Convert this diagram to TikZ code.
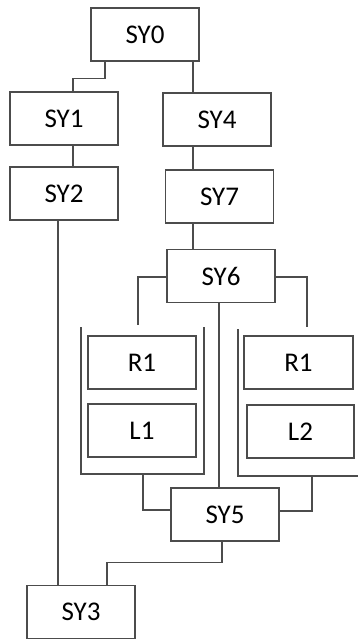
\documentclass[tikz,border=0pt]{standalone}
\usepackage{fontspec}
\setmainfont{Carlito}
\usepackage{tikz}
\usetikzlibrary{positioning,calc}

\begin{document}
\begin{tikzpicture}[
    x=1pt, y=-1pt,
    line width=1.2pt,
    box/.style={rectangle, draw=black!70, minimum width=108pt, minimum height=53pt, inner sep=0pt, font=\fontsize{27}{32}\selectfont},
    link/.style={draw=black!70, line width=1.1pt}
]
    \useasboundingbox (0,0) rectangle (358,639);

    \node[box] (SY0) at (145,34.5) {SY0};
    \node[box] (SY1) at (64,118.5) {SY1};
    \node[box] (SY4) at (217,119.5) {SY4};
    \node[box] (SY2) at (64,193.5) {SY2};
    \node[box] (SY7) at (219.5,196.5) {SY7};
    \node[box] (SY6) at (221,276) {SY6};
    \node[box] (R1a) at (142,362.5) {R1};
    \node[box] (L1) at (142,430.5) {L1};
    \node[box, minimum width=109pt] (R1b) at (298.5,362.5) {R1};
    \node[box, minimum width=107pt] (L2) at (300.5,431.5) {L2};
    \node[box] (SY5) at (225,514.5) {SY5};
    \node[box] (SY3) at (81,612) {SY3};

    \draw[link] (81,327) -- (81,474) -- (204,474) -- (204,327);
    \draw[link] (238,329) -- (238,476) -- (362,476);

    \coordinate (lt) at (138,325);
    \coordinate (rt) at (307,327);
    \coordinate (lb) at (143,474);
    \coordinate (rb) at (312,476);

    \draw[link] ([xshift=-40pt]SY0.south) -- ++(0,17) -| ([xshift=9pt]SY1.north);
    \draw[link] ([xshift=48pt]SY0.south) -- ([xshift=48pt]SY0.south |- SY4.north);
    \draw[link] ([xshift=9pt]SY1.south) -- ([xshift=9pt]SY2.north);
    \draw[link] ([xshift=-24pt]SY4.south) -- ([xshift=-24pt]SY4.south |- SY7.north);
    \draw[link] ([xshift=-26.5pt]SY7.south) -- ([xshift=-26.5pt]SY7.south |- SY6.north);
    \draw[link] ([yshift=-1pt]SY6.west) -| (lt);
    \draw[link] ([yshift=-1pt]SY6.east) -| (rt);
    \draw[link] ([xshift=-2pt]SY6.south) -- ([xshift=-2pt]SY6.south |- SY5.north);
    \draw[link] (lb) |- ([yshift=4.5pt]SY5.west);
    \draw[link] (rb) |- ([yshift=3.5pt]SY5.east);
    \draw[link] ([xshift=-3pt]SY5.south) -- ++(0,21) -| ([xshift=26pt]SY3.north);
    \draw[link] ([xshift=-6pt]SY2.south) -- ([xshift=-6pt]SY2.south |- SY3.north);
\end{tikzpicture}
\end{document}
